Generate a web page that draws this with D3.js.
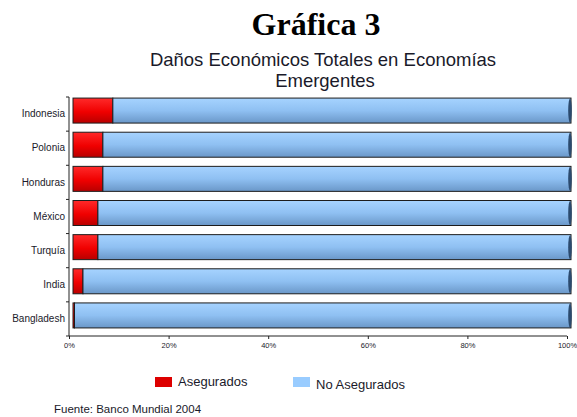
<!DOCTYPE html>
<html>
<head>
<meta charset="utf-8">
<script src="https://cdn.jsdelivr.net/npm/d3@7"></script>
<style>
  body { margin: 0; background: #fff; }
  text { font-family: "Liberation Sans", Arial, sans-serif; fill: #1a1a2a; }
</style>
</head>
<body>
<svg id="chart" width="577" height="417"></svg>
<script>
// datos (porcentaje del dano total)
var paises = ["Indonesia", "Polonia", "Honduras", "México", "Turquía", "India", "Bangladesh"];
var asegurados = [8, 6, 6, 5, 5, 2, 0.3];
var noAsegurados = [92, 94, 94, 95, 95, 98, 99.7];
var xTicks = [0, 20, 40, 60, 80, 100];
var series = ["Asegurados", "No Asegurados"];

var svg = d3.select("#chart");

var data = paises.map(function (p, i) {
    return {pais: p, "Asegurados": asegurados[i], "No Asegurados": noAsegurados[i]};
});

var x = d3.scaleLinear().domain([0, 100]).range([69, 567]);
var y = d3.scaleBand().domain(paises).range([97, 336]).padding(0);

var barH = 25,
    depthX = 4,
    depthY = -3.5;

// gradientes (efecto cilindro)
var defs = svg.append("defs");
var grads = {
    "Asegurados": [["0%", "#ff2a2a"], ["55%", "#f00000"], ["100%", "#b80000"]],
    "No Asegurados": [["0%", "#a6d3ff"], ["50%", "#8fc0f2"], ["100%", "#6a97c8"]]
};
var gradId = {"Asegurados": "gRed", "No Asegurados": "gBlue"};
series.forEach(function (s) {
    var lg = defs.append("linearGradient")
        .attr("id", gradId[s])
        .attr("x1", 0).attr("y1", 0).attr("x2", 0).attr("y2", 1);
    grads[s].forEach(function (st) {
        lg.append("stop").attr("offset", st[0]).attr("stop-color", st[1]);
    });
});

var stack = d3.stack().keys(series);
var stacked = stack(data);

var g = svg.append("g");

g.selectAll(".serie")
    .data(stacked)
    .enter().append("g")
    .attr("class", "serie")
    .attr("fill", function (d) { return "url(#" + gradId[d.key] + ")"; })
    .selectAll("rect")
    .data(function (d) { return d; })
    .enter().append("rect")
    .attr("x", function (d) { return x(d[0]) + depthX; })
    .attr("y", function (d) { return y(d.data.pais) + (y.bandwidth() - barH) / 2 + depthY; })
    .attr("width", function (d) { return x(d[1]) - x(d[0]); })
    .attr("height", barH)
    .attr("stroke", "#1c1c1c")
    .attr("stroke-width", 1);

// tapa oscura al final de cada barra
g.selectAll(".tapa")
    .data(data)
    .enter().append("ellipse")
    .attr("class", "tapa")
    .attr("cx", function (d) { return x(100) + depthX - 1; })
    .attr("cy", function (d) { return y(d.pais) + y.bandwidth() / 2 + depthY; })
    .attr("rx", 1.8)
    .attr("ry", barH / 2 - 0.5)
    .attr("fill", "#2b4a6e");

// ejes
var xAxis = svg.append("g")
    .attr("transform", "translate(0,336)")
    .call(d3.axisBottom(x).tickValues(xTicks).tickSize(3)
        .tickFormat(function (d) { return d + "%"; }));
xAxis.select(".domain").attr("stroke", "#222").attr("d", "M69,0H567");
xAxis.selectAll(".tick line").attr("stroke", "#222");
xAxis.selectAll(".tick text")
    .attr("y", 7)
    .style("font-size", "7.5px")
    .style("font-family", "Liberation Sans, Arial, sans-serif")
    .attr("fill", "#333");

var yAxis = svg.append("g")
    .attr("transform", "translate(69,0)")
    .call(d3.axisLeft(y).tickSize(0).tickPadding(4));
yAxis.select(".domain").attr("stroke", "#222").attr("d", "M0,97V336");
yAxis.selectAll(".tick text")
    .style("font-size", "10px")
    .style("font-family", "Liberation Sans, Arial, sans-serif")
    .attr("fill", "#1a1a2a");

// marcas entre categorias
var limites = paises.map(function (p) { return y(p); }).concat([y.range()[1]]);
yAxis.selectAll(".lim")
    .data(limites)
    .enter().append("line")
    .attr("class", "lim")
    .attr("x1", -3).attr("x2", 0)
    .attr("y1", function (d) { return d; })
    .attr("y2", function (d) { return d; })
    .attr("stroke", "#222");

// titulos
svg.append("text")
    .attr("x", 316).attr("y", 35)
    .attr("text-anchor", "middle")
    .style("font-family", "Liberation Serif, Times New Roman, serif")
    .style("font-weight", "bold")
    .style("font-size", "32px")
    .style("fill", "#000")
    .text("Gráfica 3");

svg.append("text")
    .attr("x", 323).attr("y", 66)
    .attr("text-anchor", "middle")
    .style("font-size", "18.5px")
    .text("Daños Económicos Totales en Economías");

svg.append("text")
    .attr("x", 325).attr("y", 87)
    .attr("text-anchor", "middle")
    .style("font-size", "18.5px")
    .text("Emergentes");

// leyenda
var leyenda = [
    {nombre: "Asegurados", color: "#dd0000", x: 155, ty: 386},
    {nombre: "No Asegurados", color: "#99ccff", x: 293, ty: 389}
];
var lg = svg.selectAll(".ley")
    .data(leyenda)
    .enter().append("g")
    .attr("class", "ley");
lg.append("rect")
    .attr("x", function (d) { return d.x; })
    .attr("y", 377)
    .attr("width", 17)
    .attr("height", 10)
    .attr("fill", function (d) { return d.color; });
lg.append("text")
    .attr("x", function (d) { return d.x + 23; })
    .attr("y", function (d) { return d.ty; })
    .style("font-size", "13px")
    .text(function (d) { return d.nombre; });

svg.append("text")
    .attr("x", 54).attr("y", 413)
    .style("font-size", "11.5px")
    .text("Fuente: Banco Mundial 2004");
</script>
</body>
</html>
